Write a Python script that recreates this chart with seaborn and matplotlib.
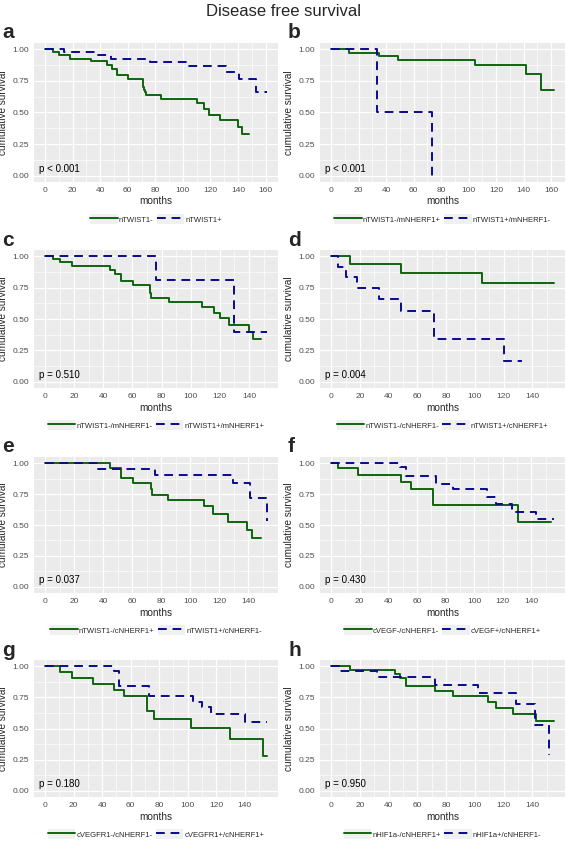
import pandas as pd
import matplotlib.pyplot as plt
import seaborn as sns
from matplotlib.lines import Line2D
from matplotlib.patches import Rectangle
from matplotlib.legend_handler import HandlerLine2D

sns.set_style("white")
plt.rcParams['font.family'] = ['Liberation Sans', 'DejaVu Sans']

# --- data (time in months, survival) ---
a_t1 = [0, 5.5, 10.3, 18.4, 33.4, 45, 48.5, 52, 60.4, 71.2, 71.9, 72.6, 73.3, 84.3, 110, 115.5, 119, 126.6, 139.7, 142.6, 148]
a_s1 = [1, 0.981, 0.955, 0.925, 0.904, 0.877, 0.845, 0.795, 0.768, 0.70, 0.68, 0.66, 0.64, 0.61, 0.573, 0.53, 0.483, 0.44, 0.384, 0.328, 0.328]
a_t2 = [0, 14, 37, 48, 76, 104, 131, 141, 153, 161]
a_s2 = [1, 0.98, 0.953, 0.925, 0.90, 0.865, 0.82, 0.765, 0.66, 0.66]

b_t1 = [0, 13, 34.7, 48.3, 104.5, 141.6, 152.8, 162]
b_s1 = [1, 0.973, 0.944, 0.912, 0.875, 0.808, 0.675, 0.675]
b_t2 = [0, 33.2, 73.4]
b_s2 = [1, 0.5, 0.0]

c_t1 = [0, 5.2, 10.3, 18.6, 44.8, 48.2, 52.2, 60.5, 71.7, 72.8, 85.1, 108, 115.8, 119.8, 126.3, 140, 143, 148.5]
c_s1 = [1, 0.976, 0.952, 0.92, 0.893, 0.861, 0.80, 0.771, 0.707, 0.667, 0.632, 0.592, 0.547, 0.507, 0.451, 0.40, 0.339, 0.339]
c_t2 = [0, 76.2, 129.9, 152.3]
c_s2 = [1, 0.808, 0.40, 0.40]

d_t1 = [0, 13.3, 48.8, 105, 155]
d_s1 = [1, 0.941, 0.869, 0.787, 0.787]
d_t2 = [0, 5, 10.6, 18, 33, 48.4, 71.3, 120, 133]
d_s2 = [1, 0.917, 0.835, 0.745, 0.656, 0.56, 0.339, 0.168, 0.168]

e_t1 = [0, 44.4, 52.2, 60.5, 72.8, 73.9, 84.7, 109.8, 115.4, 126.1, 139.3, 142.2, 148.5]
e_s1 = [1, 0.958, 0.881, 0.836, 0.793, 0.745, 0.70, 0.65, 0.59, 0.528, 0.462, 0.395, 0.395]
e_t2 = [0, 35.8, 76, 129.5, 141, 152.8]
e_s2 = [1, 0.955, 0.905, 0.836, 0.716, 0.536]

f_t1 = [0, 5, 18.5, 48.8, 55.6, 71.3, 130.3, 153.5]
f_s1 = [1, 0.958, 0.902, 0.846, 0.79, 0.66, 0.528, 0.528]
f_t2 = [0, 48.4, 52.2, 73, 84.9, 109, 115.2, 126.5, 143.4, 155.7]
f_s2 = [1, 0.968, 0.90, 0.828, 0.788, 0.73, 0.668, 0.607, 0.55, 0.55]

g_t1 = [0, 10.3, 18.6, 33.6, 48.2, 55.6, 71.7, 76.2, 102.6, 129.5, 152.8, 155.7]
g_s1 = [1, 0.955, 0.907, 0.859, 0.808, 0.757, 0.643, 0.573, 0.504, 0.419, 0.28, 0.28]
g_t2 = [0, 48.2, 52, 72.8, 104, 109.8, 116.5, 140, 155.7]
g_s2 = [1, 0.96, 0.845, 0.76, 0.715, 0.672, 0.619, 0.555, 0.555]

h_t1 = [0, 13.2, 44.1, 48.2, 52, 72.1, 84.5, 109, 114.7, 126.6, 142.7, 155]
h_s1 = [1, 0.973, 0.941, 0.907, 0.84, 0.80, 0.76, 0.715, 0.667, 0.613, 0.56, 0.56]
h_t2 = [0, 5.6, 31.8, 72, 101.9, 128.8, 141.6, 151.7]
h_s2 = [1, 0.96, 0.912, 0.853, 0.787, 0.70, 0.525, 0.285]

panel_letters = ['a', 'b', 'c', 'd', 'e', 'f', 'g', 'h']
group_labels = [
    ['nTWIST1-', 'nTWIST1+'],
    ['nTWIST1-/mNHERF1+', 'nTWIST1+/mNHERF1-'],
    ['nTWIST1-/mNHERF1-', 'nTWIST1+/mNHERF1+'],
    ['nTWIST1-/cNHERF1-', 'nTWIST1+/cNHERF1+'],
    ['nTWIST1-/cNHERF1+', 'nTWIST1+/cNHERF1-'],
    ['cVEGF-/cNHERF1-', 'cVEGF+/cNHERF1+'],
    ['cVEGFR1-/cNHERF1-', 'cVEGFR1+/cNHERF1+'],
    ['nHIF1a-/cNHERF1+', 'nHIF1a+/cNHERF1-'],
]
p_values = ['p < 0.001', 'p < 0.001', 'p = 0.510', 'p = 0.004',
            'p = 0.037', 'p = 0.430', 'p = 0.180', 'p = 0.950']
x_tick_max = [160, 160, 140, 140, 140, 140, 140, 140]

curves = [
    (a_t1, a_s1, a_t2, a_s2), (b_t1, b_s1, b_t2, b_s2),
    (c_t1, c_s1, c_t2, c_s2), (d_t1, d_s1, d_t2, d_s2),
    (e_t1, e_s1, e_t2, e_s2), (f_t1, f_s1, f_t2, f_s2),
    (g_t1, g_s1, g_t2, g_s2), (h_t1, h_s1, h_t2, h_s2),
]

GREEN = '#0f650f'
BLUE = '#0a0a8c'
DASH = (4.5, 3)
LW = 1.4


class KeyHandler(HandlerLine2D):
    # ggplot-like legend key: light grey box behind the line
    def create_artists(self, legend, orig_handle, xdescent, ydescent,
                       width, height, fontsize, trans):
        bg = Rectangle((-xdescent, -ydescent), width, height,
                       facecolor='#F0F0F0', edgecolor='none', transform=trans)
        arts = super().create_artists(legend, orig_handle, xdescent, ydescent,
                                      width, height, fontsize, trans)
        return [bg] + list(arts)


W, H = 567, 843
fig = plt.figure(figsize=(W / 100, H / 100), dpi=100)

col_x = [34, 320]
col_w = [244, 245]
letter_x = [2, 288]
row_top = [43, 250, 457, 660]
row_h = [139, 138, 136, 137]

for i, (t1, s1, t2, s2) in enumerate(curves):
    r, c = divmod(i, 2)
    ax = fig.add_axes([col_x[c] / W, 1 - (row_top[r] + row_h[r]) / H,
                       col_w[c] / W, row_h[r] / H])
    ax.set_facecolor('#EBEBEB')
    for s in ax.spines.values():
        s.set_visible(False)

    lab1, lab2 = group_labels[i]
    df = pd.DataFrame({
        'months': t1 + t2,
        'surv': s1 + s2,
        'group': [lab1] * len(t1) + [lab2] * len(t2),
    })
    sns.lineplot(data=df, x='months', y='surv', hue='group', style='group',
                 palette={lab1: GREEN, lab2: BLUE},
                 dashes={lab1: '', lab2: DASH},
                 drawstyle='steps-post', estimator=None, linewidth=LW,
                 legend=False, ax=ax, zorder=3)

    m = max(max(t1), max(t2))
    ax.set_xlim(-0.05 * m, 1.05 * m)
    ax.set_ylim(-0.05, 1.05)
    xt = list(range(0, x_tick_max[i] + 1, 20))
    ax.set_xticks(xt)
    ax.set_xticks([v + 10 for v in xt if v + 10 < 1.05 * m], minor=True)
    ax.set_yticks([0, 0.25, 0.5, 0.75, 1.0])
    ax.set_yticklabels(['0.00', '0.25', '0.50', '0.75', '1.00'])
    ax.set_yticks([0.125, 0.375, 0.625, 0.875], minor=True)
    ax.grid(which='major', color='white', linewidth=0.9, zorder=0)
    ax.grid(which='minor', color='white', linewidth=0.45, zorder=0)
    ax.set_axisbelow(True)
    ax.tick_params(which='major', length=2.2, width=0.6, pad=1.2,
                   color='#333333', labelcolor='#4D4D4D', labelsize=6)
    ax.tick_params(which='minor', length=0)

    ax.set_xlabel('months', fontsize=7.2, labelpad=2)
    ax.set_ylabel('cumulative survival', fontsize=7.2, labelpad=3)

    ax.text(0.02, 0.094, p_values[i], transform=ax.transAxes,
            ha='left', va='center', fontsize=7, color='black')

    fig.text(letter_x[c] / W, 1 - (row_top[r] - 10) / H, panel_letters[i],
             fontsize=15, fontweight='bold', ha='left', va='center')

    handles = [Line2D([], [], color=GREEN, linewidth=LW),
               Line2D([], [], color=BLUE, linewidth=LW, dashes=DASH)]
    ax.legend(handles, [lab1, lab2], loc='center', ncol=2, frameon=False,
              bbox_to_anchor=(0.5, -37 / row_h[r]), fontsize=5.5,
              handlelength=3.6, handleheight=1.45, handletextpad=0.15,
              columnspacing=0.4, borderpad=0,
              handler_map={Line2D: KeyHandler()})

fig.text(0.5, 1 - 12 / H, 'Disease free survival', ha='center', va='center',
         fontsize=12)

plt.savefig('out.png', dpi=100)
